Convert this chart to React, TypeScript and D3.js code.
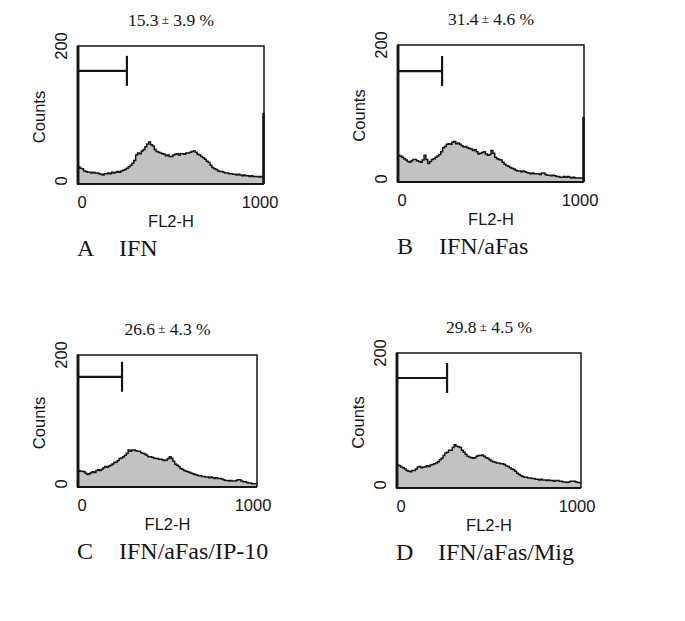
import React from "react";
import * as d3 from "d3";

// ---------- data ----------
const panelLetters = ["A", "B", "C", "D"];
const panelNames = ["IFN", "IFN/aFas", "IFN/aFas/IP-10", "IFN/aFas/Mig"];
const meanPct = ["15.3", "31.4", "26.6", "29.8"];
const sdPct = ["3.9", "4.6", "4.3", "4.5"];
const xTicks = [0, 1000];
const yTicks = [0, 200];
const xLabel = "FL2-H";
const yLabel = "Counts";
const gateEnd = [263, 237, 246, 272];
const gateLevel = [164, 162, 167, 163];
const edgeCounts = [103, 95, 0, 0];

// counts per channel bin (100 bins of width 10 on the 0..1000 FL2-H axis)
const countsA = [
  25, 23, 22, 19, 18, 17, 17, 16, 17, 16, 16, 15, 14, 13, 15, 15, 16, 15, 17, 16,
  17, 18, 17, 19, 20, 21, 23, 25, 27, 30, 34, 42, 45, 44, 48, 50, 54, 58, 61, 57,
  55, 50, 47, 46, 45, 44, 43, 41, 42, 40, 40, 42, 43, 44, 42, 44, 44, 43, 45, 45,
  46, 47, 48, 46, 43, 42, 40, 38, 36, 33, 31, 27, 24, 22, 21, 19, 18, 18, 17, 16,
  16, 15, 15, 14, 14, 13, 14, 13, 12, 13, 12, 12, 11, 12, 11, 11, 11, 10, 11, 10,
];
const countsB = [
  39, 38, 36, 34, 32, 30, 29, 31, 33, 33, 31, 30, 29, 32, 39, 33, 27, 30, 33, 34,
  36, 38, 40, 44, 50, 52, 55, 56, 55, 58, 59, 56, 57, 55, 53, 51, 52, 50, 49, 48,
  46, 47, 44, 41, 42, 43, 44, 41, 39, 40, 46, 42, 36, 34, 33, 32, 29, 26, 24, 23,
  21, 20, 19, 17, 16, 16, 15, 16, 15, 14, 13, 12, 13, 12, 12, 12, 11, 13, 13, 11,
  10, 10, 9, 10, 9, 8, 8, 7, 7, 8, 7, 8, 7, 6, 7, 6, 6, 6, 6, 6,
];
const countsC = [
  25, 24, 24, 23, 21, 19, 20, 22, 23, 22, 25, 26, 25, 27, 29, 31, 30, 32, 33, 35,
  37, 38, 40, 43, 44, 46, 48, 51, 56, 54, 56, 56, 55, 54, 54, 52, 51, 50, 48, 46,
  46, 45, 44, 43, 43, 42, 42, 41, 40, 41, 43, 46, 43, 39, 35, 33, 31, 28, 27, 25,
  24, 23, 22, 21, 20, 19, 18, 17, 17, 16, 16, 15, 15, 14, 15, 14, 13, 14, 13, 13,
  12, 11, 10, 10, 9, 10, 9, 9, 10, 11, 11, 9, 8, 8, 7, 6, 6, 5, 5, 5,
];
const countsD = [
  34, 33, 31, 30, 28, 26, 25, 24, 26, 26, 28, 31, 32, 30, 31, 31, 33, 32, 34, 35,
  36, 37, 39, 42, 44, 48, 52, 53, 56, 56, 60, 64, 62, 61, 60, 56, 53, 50, 47, 46,
  45, 44, 45, 47, 48, 48, 49, 47, 45, 44, 42, 40, 39, 38, 37, 37, 36, 36, 35, 33,
  32, 30, 28, 27, 25, 22, 20, 18, 17, 16, 16, 15, 15, 14, 14, 13, 13, 12, 13, 12,
  12, 11, 12, 11, 11, 10, 11, 11, 10, 10, 9, 9, 8, 9, 10, 10, 10, 9, 8, 8,
];
const allCounts = [countsA, countsB, countsC, countsD];
const binWidth = 10;

// ---------- layout ----------
const W = 685;
const H = 621;
const boxes = [
  { x0: 78, x1: 264, y0: 46, y1: 184 },
  { x0: 398, x1: 584, y0: 45, y1: 182 },
  { x0: 78, x1: 257, y0: 355, y1: 487 },
  { x0: 397, x1: 581, y0: 353, y1: 488 },
];
const SANS = "'Liberation Sans', Arial, sans-serif";
const SERIF = "'Liberation Serif', 'Times New Roman', serif";
const FILL = "#c2c2c2";
const INK = "#151515";
const AXIS_FS = 16.5;

function Panel({ i }: { i: number }) {
  const b = boxes[i];
  const x = d3.scaleLinear().domain([0, 1000]).range([b.x0, b.x1]);
  const y = d3.scaleLinear().domain([0, 200]).range([b.y1, b.y0]);
  const counts = allCounts[i];
  const pts: [number, number][] = counts.map((c, k) => [k * binWidth, c]);
  pts.push([counts.length * binWidth, counts[counts.length - 1]]);
  const area = d3
    .area<[number, number]>()
    .x((d) => x(d[0]))
    .y0(y(0))
    .y1((d) => y(d[1]))
    .curve(d3.curveStepAfter);
  const line = d3
    .line<[number, number]>()
    .x((d) => x(d[0]))
    .y((d) => y(d[1]))
    .curve(d3.curveStepAfter);
  const L = x(0);
  const R = x(1000);
  const T = y(200);
  const B = y(0);
  const cx = (L + R) / 2;
  const cy = (T + B) / 2;
  const gx = x(gateEnd[i]);
  const gy = y(gateLevel[i]);

  // histogram outline together with the thin top/right edges of the frame
  const outline = (line(pts) || "") + `M${L},${T}H${R}V${B}`;
  // gate marker together with the heavy left and bottom edges of the frame
  const heavy = `M${L},${gy}H${gx}M${L},${T - 0.7}V${B}H${R}`;

  return (
    <g>
      <path d={area(pts) || ""} fill={FILL} stroke="none" />
      <path d={outline} fill="none" stroke={INK} strokeWidth={1.5} />
      <path d={heavy} fill="none" stroke={INK} strokeWidth={2.2} />
      {edgeCounts[i] > 0 && (
        <rect x={R - 1.8} y={y(edgeCounts[i])} width={2.6} height={B - y(edgeCounts[i])} fill={INK} />
      )}
      <path d={`M${L},${T}V${B}`} fill="none" stroke={INK} strokeWidth={2.8} />
      <path d={`M${gx},${gy - 15}V${gy + 15}`} stroke={INK} strokeWidth={2.2} fill="none" />
      {/* y ticks */}
      {yTicks.map((t) => (
        <text
          key={"y" + t}
          transform={`translate(${L - 11},${y(t) + (t === 0 ? -3 : 0)}) rotate(-90)`}
          textAnchor="middle"
          fontFamily={SANS}
          fontSize={AXIS_FS}
          fill={INK}
        >
          {t}
        </text>
      ))}
      <text
        transform={`translate(${L - 33},${cy + 2}) rotate(-90)`}
        textAnchor="middle"
        fontFamily={SANS}
        fontSize={AXIS_FS}
        fill={INK}
      >
        {yLabel}
      </text>
      {/* x ticks */}
      {xTicks.map((t) => (
        <text
          key={"x" + t}
          x={t === 0 ? x(t) + 4 : x(t) - 4}
          y={B + 24}
          textAnchor="middle"
          fontFamily={SANS}
          fontSize={AXIS_FS}
          fill={INK}
        >
          {t}
        </text>
      ))}
      <text x={cx} y={B + 43} textAnchor="middle" fontFamily={SANS} fontSize={AXIS_FS} fill={INK}>
        {xLabel}
      </text>
      {/* title */}
      <text x={cx} y={T - 20} textAnchor="middle" fontFamily={SERIF} fontSize={17.5} fill={INK}>
        {meanPct[i]}
        <tspan fontSize={13} dy={-2}> ±</tspan>
        <tspan dy={2}> {sdPct[i]} %</tspan>
      </text>
      {/* panel label */}
      <text x={L - 1} y={B + 72} fontFamily={SERIF} fontSize={24} fill={INK}>
        {panelLetters[i]}
      </text>
      <text x={L + 41} y={B + 72} fontFamily={SERIF} fontSize={24} fill={INK}>
        {panelNames[i]}
      </text>
    </g>
  );
}

export default function App() {
  return (
    <svg
      width={W}
      height={H}
      viewBox={`0 0 ${W} ${H}`}
      style={{ position: "absolute", left: 0, top: 0, background: "#fff" }}
    >
      <rect x={0} y={0} width={W} height={H} fill="#fff" />
      {panelLetters.map((_, i) => (
        <Panel key={i} i={i} />
      ))}
    </svg>
  );
}
